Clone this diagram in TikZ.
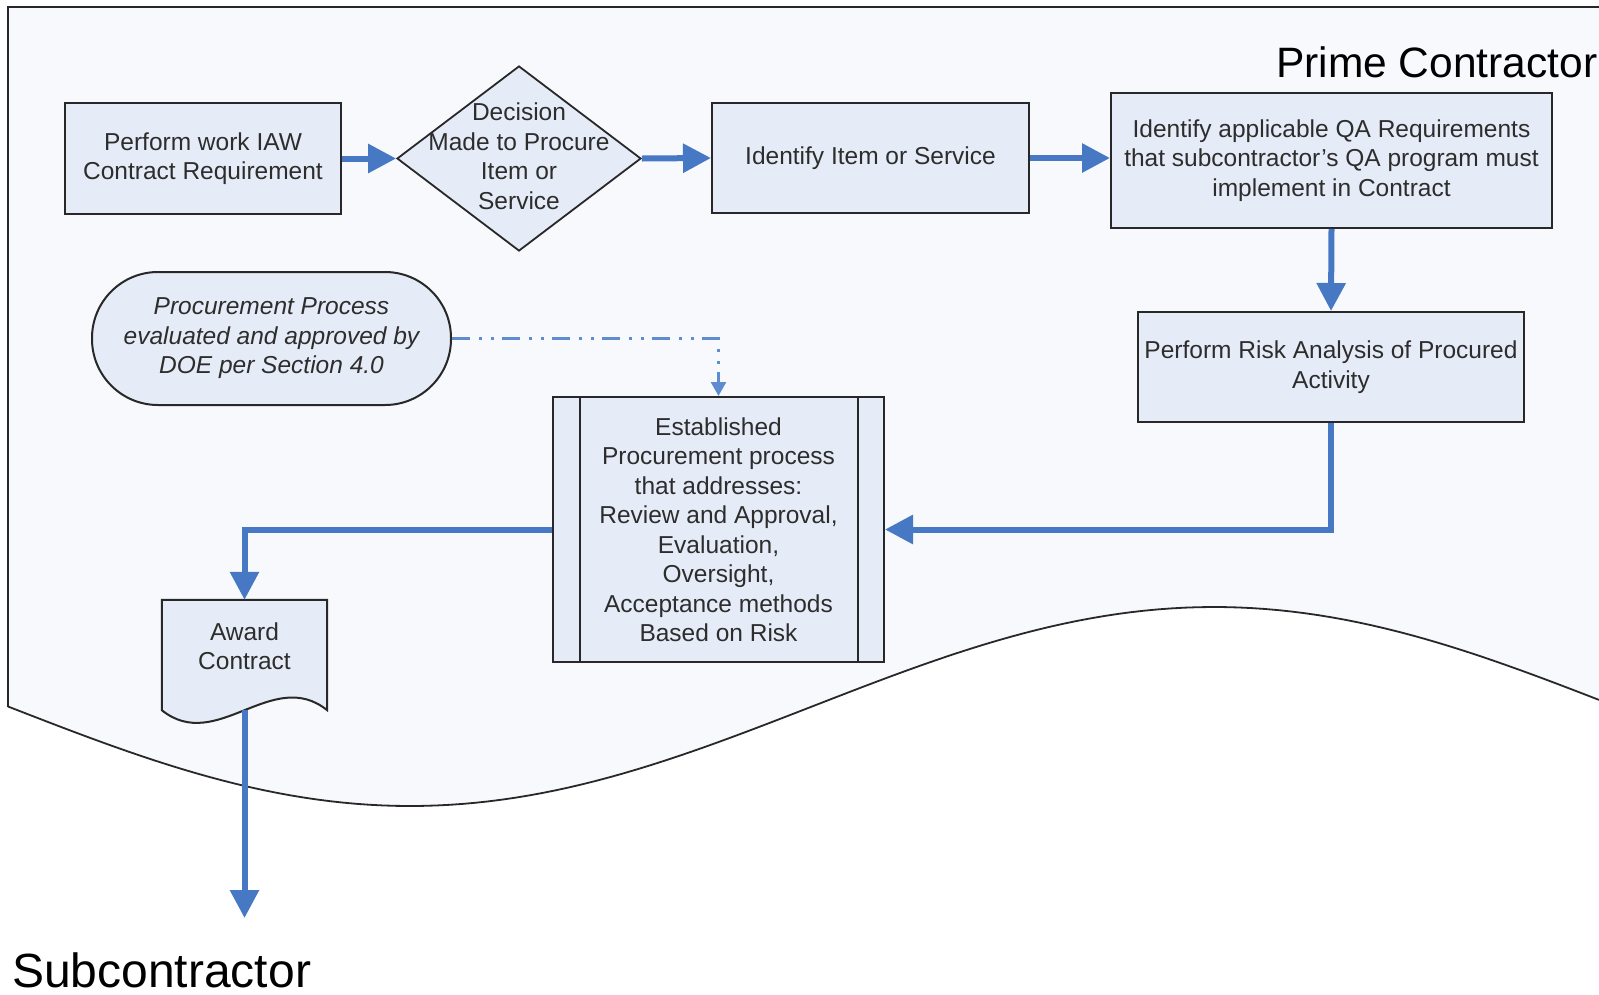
\documentclass[tikz,border=0pt]{standalone}
\usepackage{fontspec}
\setmainfont{Liberation Sans}
\usetikzlibrary{arrows.meta,shapes.geometric,calc}
\definecolor{framebg}{RGB}{248,249,252}
\definecolor{boxfill}{RGB}{230,236,247}
\definecolor{edge}{RGB}{40,40,40}
\definecolor{flow}{RGB}{71,120,196}
\definecolor{flowlight}{RGB}{95,140,208}
\definecolor{ink}{RGB}{45,45,45}

\begin{document}
\begin{tikzpicture}[x=1pt,y=-1pt,
  boxtext/.style={font=\fontsize{24.5}{29.5}\selectfont, text=ink, align=center},
  procbox/.style={draw=edge, line width=2pt, fill=boxfill, rectangle, inner sep=0pt, boxtext},
  decisionbox/.style={draw=edge, line width=1.8pt, fill=boxfill, diamond, inner sep=0pt},
  termbox/.style={draw=edge, line width=2pt, fill=boxfill, rectangle, rounded corners=66pt,
    inner sep=0pt, boxtext, font=\fontsize{24.5}{29.5}\selectfont\itshape},
  flowarrow/.style={draw=flow, line width=6pt, -{Triangle[length=28pt,width=28pt]}},
  dashlink/.style={draw=flowlight, line width=2.5pt,
    dash pattern=on 18pt off 9pt on 3pt off 9pt on 3pt off 8pt,
    -{Triangle[length=14pt,width=15pt]}},
  heading/.style={text=black, inner sep=0pt, anchor=base west}
]
\useasboundingbox (0,0) rectangle (1599,994);

% swimlane of the prime contractor, open at the right, wavy at the bottom
\fill[framebg] (8,7) -- (1599,7) -- plot[domain=1599:8, samples=120]
  (\x, {706.5 + 99.5*cos((\x-410)/804*180)}) -- cycle;
\draw[edge, line width=2.5pt] (1599,7) -- (8,7) -- (8,706.5);
\draw[edge, line width=1.8pt] plot[domain=8:1599, samples=120]
  (\x, {706.5 + 99.5*cos((\x-410)/804*180)});

\node[heading, font=\fontsize{42.5}{50}\selectfont] (prime) at (1276,77) {Prime Contractor};
\node[heading, font=\fontsize{48}{56}\selectfont] (sub) at (12,987) {Subcontractor};

% process steps
\node[procbox, minimum width=276, minimum height=111] (perform) at (203,158.5)
  {Perform work IAW\\Contract Requirement};
\node[decisionbox, minimum width=244, minimum height=185] (decision) at (519,158.5) {};
\node[boxtext] (decision-text) at (519,156) {Decision\\Made to Procure\\Item or\\Service};
\node[procbox, minimum width=317, minimum height=110] (identify) at (870.5,158)
  {Identify Item or Service};
\node[procbox, minimum width=441, minimum height=135] (qa) at (1331.5,160.5)
  {Identify applicable QA Requirements\\that subcontractor’s QA program must\\implement in Contract};
\node[procbox, minimum width=386, minimum height=110] (risk) at (1331,367)
  {Perform Risk Analysis of Procured\\Activity};
\node[termbox, minimum width=359, minimum height=133] (doe) at (271.5,338.5)
  {Procurement Process\\evaluated and approved by\\DOE per Section 4.0};
\node[procbox, minimum width=331, minimum height=265] (established) at (718.5,529.5)
  {Established\\Procurement process\\that addresses:\\Review and Approval,\\Evaluation,\\Oversight,\\Acceptance methods\\Based on Risk};
\draw[edge, line width=2pt] ([xshift=28]established.north west) -- ([xshift=28]established.south west);
\draw[edge, line width=2pt] ([xshift=-27]established.north east) -- ([xshift=-27]established.south east);

% document shape for the award
\node[minimum width=165, minimum height=110, inner sep=0pt] (award) at (244.5,655) {};
\draw[edge, line width=2pt, fill=boxfill, line join=miter]
  (award.north west) -- (award.north east) -- (award.south east)
  .. controls ($(award.south east)+(-55,-44)$) and ($(award.south west)+(55,44)$) .. (award.south west) -- cycle;
\node[boxtext] (award-text) at (244.5,646) {Award\\Contract};

\coordinate (handoff) at (244.5,918);

% flow connectors
\draw[flowarrow] (perform.east) -- (decision.west);
\draw[flowarrow] (decision.east) -- (identify.west);
\draw[flowarrow] (identify.east) -- (identify.east -| qa.west);
\draw[flowarrow] (qa.south) -- (risk.north);
\draw[flowarrow] (risk.south) |- (established.east);
\draw[flowarrow] (established.west) -| (award.north);
\draw[flowarrow] (award.south) -- (handoff);
\draw[dashlink] (doe.east) -| (established.north);
\end{tikzpicture}
\end{document}
